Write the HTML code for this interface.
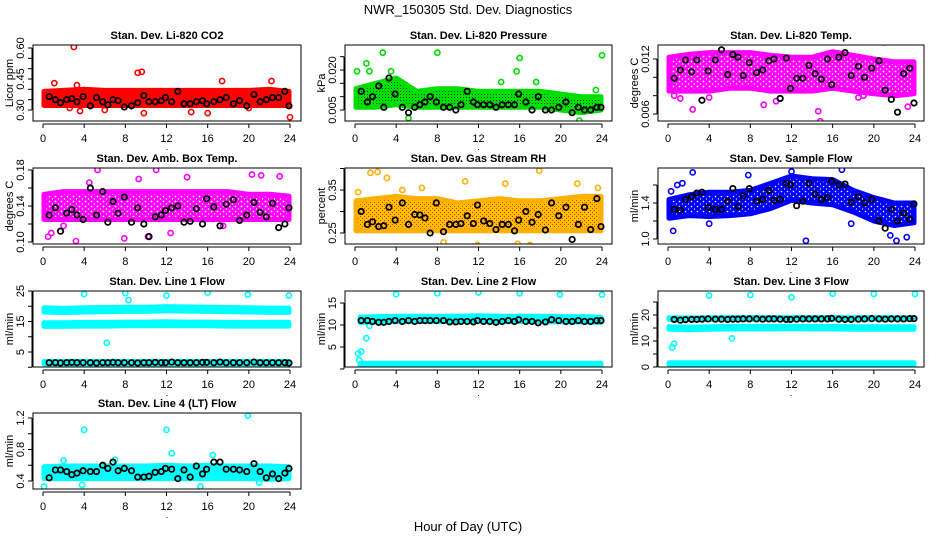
<!DOCTYPE html>
<html><head><meta charset="utf-8"><style>
html,body{margin:0;padding:0;background:#fff;}
svg{display:block;font-family:"Liberation Sans",sans-serif;}
</style></head><body>
<svg id="chart" width="936" height="540" viewBox="0 0 936 540">
<defs>
<pattern id="pat-mag" width="6" height="5" patternUnits="userSpaceOnUse"><rect width="6" height="5" fill="#ff00ff"/><circle cx="1.5" cy="1.5" r="0.9" fill="#fff"/><circle cx="4.5" cy="4" r="0.7" fill="#fff"/></pattern>
<pattern id="pat-rh" width="4" height="4" patternUnits="userSpaceOnUse"><rect width="4" height="4" fill="#ffc000"/><rect x="0" y="0" width="1" height="1" fill="#ff2000"/><rect x="2" y="2" width="1" height="1" fill="#ff2000"/></pattern>
<pattern id="pat-blue" width="6" height="5" patternUnits="userSpaceOnUse"><rect width="6" height="5" fill="#0000ff"/><circle cx="1.5" cy="1.5" r="0.8" fill="#fff"/><circle cx="4.5" cy="4" r="0.6" fill="#fff"/></pattern>
<pattern id="pat-green" width="3" height="3" patternUnits="userSpaceOnUse"><rect width="3" height="3" fill="#00e000"/><rect x="1" y="1" width="1" height="1" fill="#004000"/></pattern>
</defs>
<text x="468" y="14" text-anchor="middle" font-size="13">NWR_150305  Std. Dev. Diagnostics</text>
<text x="468" y="531" text-anchor="middle" font-size="13">Hour of Day (UTC)</text>
</svg>
<script>
const bandHours=[0,2,4,6,8,10,12,14,16,18,20,22,24];
const xTicks=[0,4,8,12,16,20,24];
const blackHours=[0.6,1.2,1.7,2.3,2.8,3.3,3.9,4.6,5.2,5.8,6.3,6.8,7.3,7.9,8.6,9.2,9.8,10.3,10.9,11.5,11.9,12.5,13.1,13.7,14.3,14.9,15.5,15.9,16.6,17.2,17.8,18.5,19.1,19.8,20.5,21.1,21.7,22.3,22.9,23.5,23.9];

const co2Lo=[0.322,0.322,0.322,0.322,0.322,0.322,0.322,0.322,0.322,0.322,0.322,0.322,0.322];
const co2Hi=[0.39,0.395,0.4,0.395,0.395,0.395,0.395,0.395,0.395,0.395,0.395,0.4,0.39];
const co2Black=[0.365,0.35,0.335,0.35,0.355,0.34,0.365,0.32,0.36,0.34,0.325,0.35,0.345,0.315,0.32,0.335,0.37,0.34,0.34,0.345,0.36,0.34,0.39,0.33,0.33,0.34,0.345,0.33,0.34,0.35,0.36,0.33,0.345,0.32,0.375,0.34,0.35,0.36,0.36,0.39,0.32];
const co2OutX=[3.0,9.2,9.6,9.8,3.6,24.0,1.1,22.2,17.4,2.6,16.0,20.0,3.3,6.0,14.4];
const co2OutY=[0.605,0.48,0.485,0.285,0.295,0.265,0.43,0.44,0.44,0.31,0.285,0.31,0.42,0.30,0.29];

const presLo=[0.006,0.006,0.007,0.006,0.006,0.006,0.006,0.006,0.006,0.006,0.005,0.004,0.005];
const presHi=[0.013,0.015,0.017,0.012,0.013,0.013,0.012,0.012,0.012,0.012,0.011,0.010,0.010];
const presBlack=[0.012,0.008,0.010,0.014,0.006,0.017,0.011,0.006,0.004,0.006,0.007,0.008,0.010,0.008,0.006,0.006,0.005,0.007,0.012,0.008,0.007,0.007,0.007,0.006,0.007,0.007,0.007,0.011,0.008,0.005,0.010,0.005,0.005,0.006,0.008,0.004,0.006,0.005,0.005,0.006,0.006];
const presOutX=[2.7,8.0,16.0,24.0,1.1,0.2,1.4,15.7,17.6,23.4,5.2,21.8,3.5,14.2];
const presOutY=[0.0265,0.0265,0.0245,0.0255,0.0225,0.0195,0.0195,0.0195,0.0155,0.0125,0.002,0.001,0.0195,0.0155];

const tempLo=[0.0085,0.0085,0.0085,0.0088,0.0088,0.0085,0.0085,0.0085,0.0088,0.0085,0.0082,0.0080,0.0082];
const tempHi=[0.0122,0.0125,0.0127,0.0127,0.0127,0.0124,0.0122,0.0122,0.0128,0.0124,0.0120,0.0117,0.0117];
const tempBlack=[0.0099,0.0108,0.0119,0.0106,0.0119,0.0075,0.0107,0.0119,0.0130,0.0103,0.0125,0.0122,0.0102,0.0116,0.0105,0.0108,0.0118,0.0120,0.0077,0.0121,0.0088,0.0099,0.0099,0.0113,0.0104,0.0098,0.0120,0.0092,0.0122,0.0127,0.0102,0.0112,0.0100,0.0110,0.0118,0.0086,0.0076,0.0062,0.0104,0.0110,0.0072];
const tempOutX=[2.4,14.8,23.3,16.4,7.1,14.6,1.2,0.6,3.2,21.0,19.0,10.5,4.0,9.3,18.5];
const tempOutY=[0.0065,0.0052,0.0068,0.0145,0.0142,0.0063,0.0077,0.0080,0.0145,0.0138,0.0080,0.0074,0.0078,0.0070,0.0078];

const ambLo=[0.125,0.125,0.125,0.125,0.125,0.125,0.125,0.125,0.125,0.125,0.125,0.125,0.125];
const ambHi=[0.153,0.156,0.156,0.156,0.156,0.156,0.156,0.156,0.156,0.156,0.153,0.153,0.151];
const ambBlack=[0.13,0.138,0.112,0.132,0.136,0.13,0.125,0.160,0.13,0.156,0.122,0.145,0.132,0.15,0.122,0.138,0.12,0.106,0.128,0.13,0.135,0.138,0.14,0.122,0.123,0.137,0.12,0.148,0.139,0.118,0.142,0.147,0.124,0.130,0.144,0.133,0.128,0.143,0.116,0.12,0.138];
const ambOutX=[3.2,7.9,10.2,11.0,5.3,20.3,21.2,23.0,0.5,0.8,12.4,14.0,4.5,9.3,2.0,17.5];
const ambOutY=[0.101,0.104,0.106,0.18,0.18,0.175,0.174,0.173,0.106,0.11,0.11,0.172,0.166,0.170,0.118,0.118];

const rhLo=[0.255,0.255,0.255,0.255,0.255,0.255,0.255,0.255,0.255,0.255,0.255,0.255,0.255];
const rhHi=[0.325,0.33,0.335,0.33,0.33,0.32,0.325,0.33,0.325,0.325,0.33,0.335,0.335];
const rhBlack=[0.30,0.27,0.276,0.265,0.267,0.31,0.28,0.32,0.27,0.293,0.292,0.285,0.25,0.32,0.253,0.27,0.27,0.272,0.29,0.272,0.315,0.278,0.272,0.258,0.27,0.27,0.255,0.28,0.30,0.275,0.293,0.257,0.32,0.29,0.31,0.235,0.27,0.31,0.258,0.33,0.265];
const rhOutX=[1.5,2.2,3.1,10.7,17.9,21.6,11.9,17.0,15.8,8.6,6.5,14.6,23.6,4.6,0.3];
const rhOutY=[0.39,0.392,0.378,0.37,0.395,0.365,0.222,0.222,0.225,0.228,0.355,0.365,0.355,0.35,0.345];

const flowLo=[1.23,1.26,1.25,1.26,1.28,1.34,1.43,1.40,1.38,1.30,1.20,1.15,1.18];
const flowHi=[1.44,1.49,1.52,1.52,1.54,1.62,1.70,1.67,1.66,1.54,1.46,1.40,1.40];
const flowBlack=[1.33,1.32,1.44,1.47,1.51,1.52,1.35,1.33,1.33,1.42,1.56,1.36,1.48,1.56,1.42,1.44,1.54,1.43,1.44,1.62,1.6,1.37,1.42,1.62,1.50,1.44,1.46,1.64,1.60,1.61,1.41,1.47,1.40,1.44,1.20,1.12,1.33,1.20,1.29,1.22,1.39];
const flowOutX=[2.4,7.8,12.0,13.4,16.9,0.3,22.2,23.2,20.1,0.5,1.4,4.0,17.8,0.9,21.6];
const flowOutY=[1.74,1.71,1.75,0.98,1.77,1.53,0.98,1.02,1.23,1.09,1.62,1.17,1.17,1.60,1.04];

const l1BandA=[18.8,18.6,18.8,18.9,19.0,19.0,19.2,19.1,19.0,18.9,18.8,18.7,18.7];
const l1BandB=[14.0,14.0,14.1,14.1,14.2,14.2,14.3,14.2,14.2,14.1,14.1,14.1,14.1];
const l1BandC=[1.5,1.5,1.5,1.5,1.5,1.5,1.5,1.5,1.5,1.5,1.5,1.5,1.5];
const l1Black=[1.5,1.5,1.4,1.5,1.6,1.5,1.5,1.5,1.4,1.5,1.5,1.6,1.5,1.5,1.5,1.4,1.5,1.5,1.6,1.5,1.5,1.7,1.5,1.5,1.5,1.5,1.6,1.6,1.5,1.7,1.5,1.5,1.5,1.5,1.7,1.5,1.5,1.5,1.5,1.5,1.4];
const l1OutX=[4.0,8.0,8.3,12.0,16.0,19.9,23.9,6.2];
const l1OutY=[24,24.3,22,23.5,24.5,23.8,23.5,8];

const l2BandA=[11.2,11.3,11.4,11.4,11.4,11.4,11.5,11.4,11.4,11.4,11.3,11.3,11.2];
const l2BandB=[1.0,1.0,1.0,1.0,1.0,1.0,1.0,1.0,1.0,1.0,1.0,1.0,1.0];
const l2Black=[11.0,11.0,10.8,10.6,10.6,10.8,11.0,10.8,11.0,10.8,11.0,11.0,11.0,11.0,11.0,10.7,10.7,10.8,10.8,10.7,11.0,10.8,10.8,10.6,10.8,11.0,10.8,11.2,10.8,10.8,10.5,10.7,11.2,11.0,10.8,10.8,11.0,10.8,10.8,11.0,11.0];
const l2OutX=[4.0,8.0,12.0,16.0,19.9,24.0,1.1,0.3,0.6,0.4,1.4];
const l2OutY=[17,17.2,17.4,17.2,16.9,16.9,7,3.5,4,2,9.8];

const l3BandA=[18.6,18.6,18.6,18.7,18.7,18.7,18.7,18.7,18.7,18.7,18.7,18.7,18.6];
const l3BandB=[15.0,14.8,15.0,15.1,15.1,15.1,15.2,15.1,15.1,15.0,15.0,15.0,15.0];
const l3BandC=[1.2,1.2,1.2,1.2,1.2,1.2,1.2,1.2,1.2,1.2,1.2,1.2,1.2];
const l3Black=[18.3,18.0,18.2,18.3,18.3,18.4,18.5,18.4,18.4,18.3,18.4,18.4,18.5,18.5,18.5,18.4,18.5,18.5,18.4,18.3,18.3,18.4,18.5,18.5,18.5,18.5,18.5,18.7,18.4,18.3,18.3,18.4,18.5,18.6,18.5,18.4,18.5,18.5,18.5,18.6,18.6];
const l3OutX=[4.0,8.0,12.0,16.0,20.0,24.0,0.4,0.6,6.2];
const l3OutY=[27.5,27.7,26.8,28.2,28.1,28.1,7.5,9,11];

const l4Lo=[0.43,0.43,0.43,0.43,0.43,0.43,0.43,0.43,0.43,0.43,0.43,0.42,0.43];
const l4Hi=[0.58,0.59,0.59,0.59,0.59,0.59,0.60,0.59,0.60,0.59,0.59,0.59,0.58];
const l4Black=[0.44,0.54,0.54,0.52,0.48,0.50,0.53,0.52,0.52,0.60,0.56,0.64,0.53,0.56,0.53,0.45,0.45,0.46,0.51,0.52,0.56,0.55,0.43,0.54,0.45,0.59,0.49,0.55,0.64,0.64,0.55,0.55,0.54,0.52,0.62,0.52,0.44,0.49,0.43,0.50,0.56];
const l4OutX=[4.0,12.0,19.9,0.1,3.8,15.3,12.5,16.5,2.0,7.0,21.0];
const l4OutY=[1.05,1.05,1.23,0.33,0.35,0.33,0.75,0.73,0.66,0.67,0.38];

const NS="http://www.w3.org/2000/svg";
const svg=document.getElementById('chart');
function mk(tag,attrs,parent){const e=document.createElementNS(NS,tag);for(const k in attrs)e.setAttribute(k,attrs[k]);(parent||svg).appendChild(e);return e;}

const colBox=[[33,301],[345,612],[658,924]];
const colX0=[43,355,668];
const rowBox=[[45,121],[168,244],[291,367],[413,489]];

const panels=[
 {name:'co2',title:'Stan. Dev. Li-820 CO2',ylab:'Licor ppm',col:0,row:0,v0:0.30,p0:110,v1:0.60,p1:48,ticks:[0.30,0.35,0.40,0.45,0.50,0.55,0.60],labels:['0.30','','','0.45','','','0.60'],color:'#ff0000',fill:'#ff0000',bands:[[co2Lo,co2Hi]],black:co2Black,ox:co2OutX,oy:co2OutY},
 {name:'pressure',title:'Stan. Dev. Li-820 Pressure',ylab:'kPa',col:1,row:0,v0:0.005,p0:110,v1:0.020,p1:70,ticks:[0.005,0.010,0.015,0.020,0.025],labels:['0.005','','','0.020',''],color:'#00dd00',fill:'url(#pat-green)',bands:[[presLo,presHi]],black:presBlack,ox:presOutX,oy:presOutY},
 {name:'temp',title:'Stan. Dev. Li-820 Temp.',ylab:'degrees C',col:2,row:0,v0:0.006,p0:114,v1:0.012,p1:59,ticks:[0.006,0.008,0.010,0.012],labels:['0.006','','','0.012'],color:'#ff00ff',fill:'url(#pat-mag)',bands:[[tempLo,tempHi]],black:tempBlack,ox:tempOutX,oy:tempOutY},
 {name:'amb-box-temp',title:'Stan. Dev. Amb. Box Temp.',ylab:'degrees C',col:0,row:1,v0:0.10,p0:242,v1:0.18,p1:170,ticks:[0.10,0.12,0.14,0.16,0.18],labels:['0.10','','0.14','','0.18'],color:'#ff00ff',fill:'url(#pat-mag)',bands:[[ambLo,ambHi]],black:ambBlack,ox:ambOutX,oy:ambOutY},
 {name:'gas-rh',title:'Stan. Dev. Gas Stream RH',ylab:'percent',col:1,row:1,v0:0.25,p0:233,v1:0.35,p1:190,ticks:[0.25,0.30,0.35,0.40],labels:['0.25','','0.35',''],color:'#ffb000',fill:'url(#pat-rh)',bands:[[rhLo,rhHi]],black:rhBlack,ox:rhOutX,oy:rhOutY},
 {name:'sample-flow',title:'Stan. Dev. Sample Flow',ylab:'ml/min',col:2,row:1,v0:1.0,p0:239,v1:1.4,p1:203,ticks:[1.0,1.2,1.4,1.6],labels:['1.0','','1.4',''],color:'#0000ff',fill:'url(#pat-blue)',bands:[[flowLo,flowHi]],black:flowBlack,ox:flowOutX,oy:flowOutY},
 {name:'line1-flow',title:'Stan. Dev. Line 1 Flow',ylab:'ml/min',col:0,row:2,v0:5,p0:352,v1:25,p1:291,ticks:[0,5,10,15,20,25],labels:['','5','','15','','25'],color:'#00ffff',fill:'#00ffff',bands:[[l1BandA,l1BandA,0.7],[l1BandB,l1BandB,0.6],[l1BandC,l1BandC,0.4]],black:l1Black,ox:l1OutX,oy:l1OutY},
 {name:'line2-flow',title:'Stan. Dev. Line 2 Flow',ylab:'ml/min',col:1,row:2,v0:5,p0:347,v1:15,p1:303,ticks:[0,5,10,15],labels:['','5','10','15'],color:'#00ffff',fill:'#00ffff',bands:[[l2BandA,l2BandA,0.6],[l2BandB,l2BandB,0.3]],black:l2Black,ox:l2OutX,oy:l2OutY,bandStart:0.5},
 {name:'line3-flow',title:'Stan. Dev. Line 3 Flow',ylab:'ml/min',col:2,row:2,v0:0,p0:367,v1:20,p1:315,ticks:[0,5,10,15,20,25],labels:['0','','10','','20',''],color:'#00ffff',fill:'#00ffff',bands:[[l3BandA,l3BandA,0.3],[l3BandB,l3BandB,0.5],[l3BandC,l3BandC,0.4]],black:l3Black,ox:l3OutX,oy:l3OutY},
 {name:'line4-flow',title:'Stan. Dev. Line 4 (LT) Flow',ylab:'ml/min',col:0,row:3,v0:0.4,p0:481,v1:1.2,p1:418,ticks:[0.4,0.6,0.8,1.0,1.2],labels:['0.4','','0.8','','1.2'],color:'#00ffff',fill:'#00ffff',bands:[[l4Lo,l4Hi]],black:l4Black,ox:l4OutX,oy:l4OutY}
];

panels.forEach(p=>{
  const [bx0,bx1]=colBox[p.col], [by0,by1]=rowBox[p.row];
  const xs=h=>colX0[p.col]+h*(247/24);
  const ys=v=>p.p0+(v-p.v0)*(p.p1-p.p0)/(p.v1-p.v0);
  const g=mk('g',{});
  
  
  const cid='clip-'+p.name;
  const cp=mk('clipPath',{id:cid},g); mk('rect',{x:bx0,y:by0,width:bx1-bx0,height:by1-by0},cp);
  const plot=mk('g',{'clip-path':'url(#'+cid+')'},g);
  
  
  p.bands.forEach((b)=>{
    const lo=b[0],hi=b[1],hw=b[2]||0;
    const start=p.bandStart||0.1;
    let top=[],bot=[];
    bandHours.forEach((h,i)=>{const hh=Math.min(Math.max(h,start),23.9);top.push(xs(hh).toFixed(1)+','+ys(hi[i]+hw).toFixed(1));bot.push(xs(hh).toFixed(1)+','+ys(lo[i]-hw).toFixed(1));});
    const d='M'+top.join('L')+'L'+bot.reverse().join('L')+'Z';
    const band=mk('path',{d:d,fill:p.fill,stroke:p.color,'stroke-width':5,'stroke-linejoin':'round'},plot);
    
    
  });
  p.ox.forEach((h,i)=>{
    const c=mk('circle',{cx:xs(h),cy:ys(p.oy[i]),r:2.6,fill:'none',stroke:p.color,'stroke-width':1.6},plot);
    
    
  });
  blackHours.forEach((h,i)=>{
    const c=mk('circle',{cx:xs(h),cy:ys(p.black[i]),r:2.7,fill:'none',stroke:'#000','stroke-width':1.8},plot);
    
    
  });
  const box=mk('rect',{x:bx0,y:by0,width:bx1-bx0,height:by1-by0,fill:'none',stroke:'#000','stroke-width':1},g);
  
  
  const t=mk('text',{x:(bx0+bx1)/2,y:by0-6,'text-anchor':'middle','font-size':11,'font-weight':'bold'},g);
  t.textContent=p.title;
  
  
  const xa=mk('g',{},g);
  
  
  const ay=by1+3;
  mk('line',{x1:xs(0),y1:ay,x2:xs(24),y2:ay,stroke:'#000'},xa);
  xTicks.forEach(h=>{
    mk('line',{x1:xs(h),y1:ay,x2:xs(h),y2:ay+4,stroke:'#000'},xa);
    const tl=mk('text',{x:xs(h),y:by1+21,'text-anchor':'middle','font-size':11},xa);
    tl.textContent=h;
    
    
  });
  mk('text',{x:(bx0+bx1)/2,y:by1+29,'text-anchor':'middle','font-size':9},xa).textContent='.';
  const ya=mk('g',{},g);
  
  
  const ax=bx0-1;
  const tv=p.ticks.filter(v=>ys(v)>=by0-3&&ys(v)<=by1+3);
  mk('line',{x1:ax,y1:ys(tv[0]),x2:ax,y2:ys(tv[tv.length-1]),stroke:'#000'},ya);
  p.ticks.forEach((v,i)=>{
    const yy=ys(v); if(yy<by0-3||yy>by1+3) return;
    mk('line',{x1:ax-4,y1:yy,x2:ax,y2:yy,stroke:'#000'},ya);
    if(p.labels[i]){
      const tl=mk('text',{x:0,y:0,'text-anchor':'middle','font-size':11,transform:'translate('+(ax-8)+','+yy+') rotate(-90)'},ya);
      tl.textContent=p.labels[i];
      
      
    }
  });
  const yl=mk('text',{x:0,y:0,'text-anchor':'middle','font-size':11,transform:'translate('+(bx0-20)+','+((by0+by1)/2)+') rotate(-90)'},ya);
  yl.textContent=p.ylab;
  
  
});
</script>
</body></html>
